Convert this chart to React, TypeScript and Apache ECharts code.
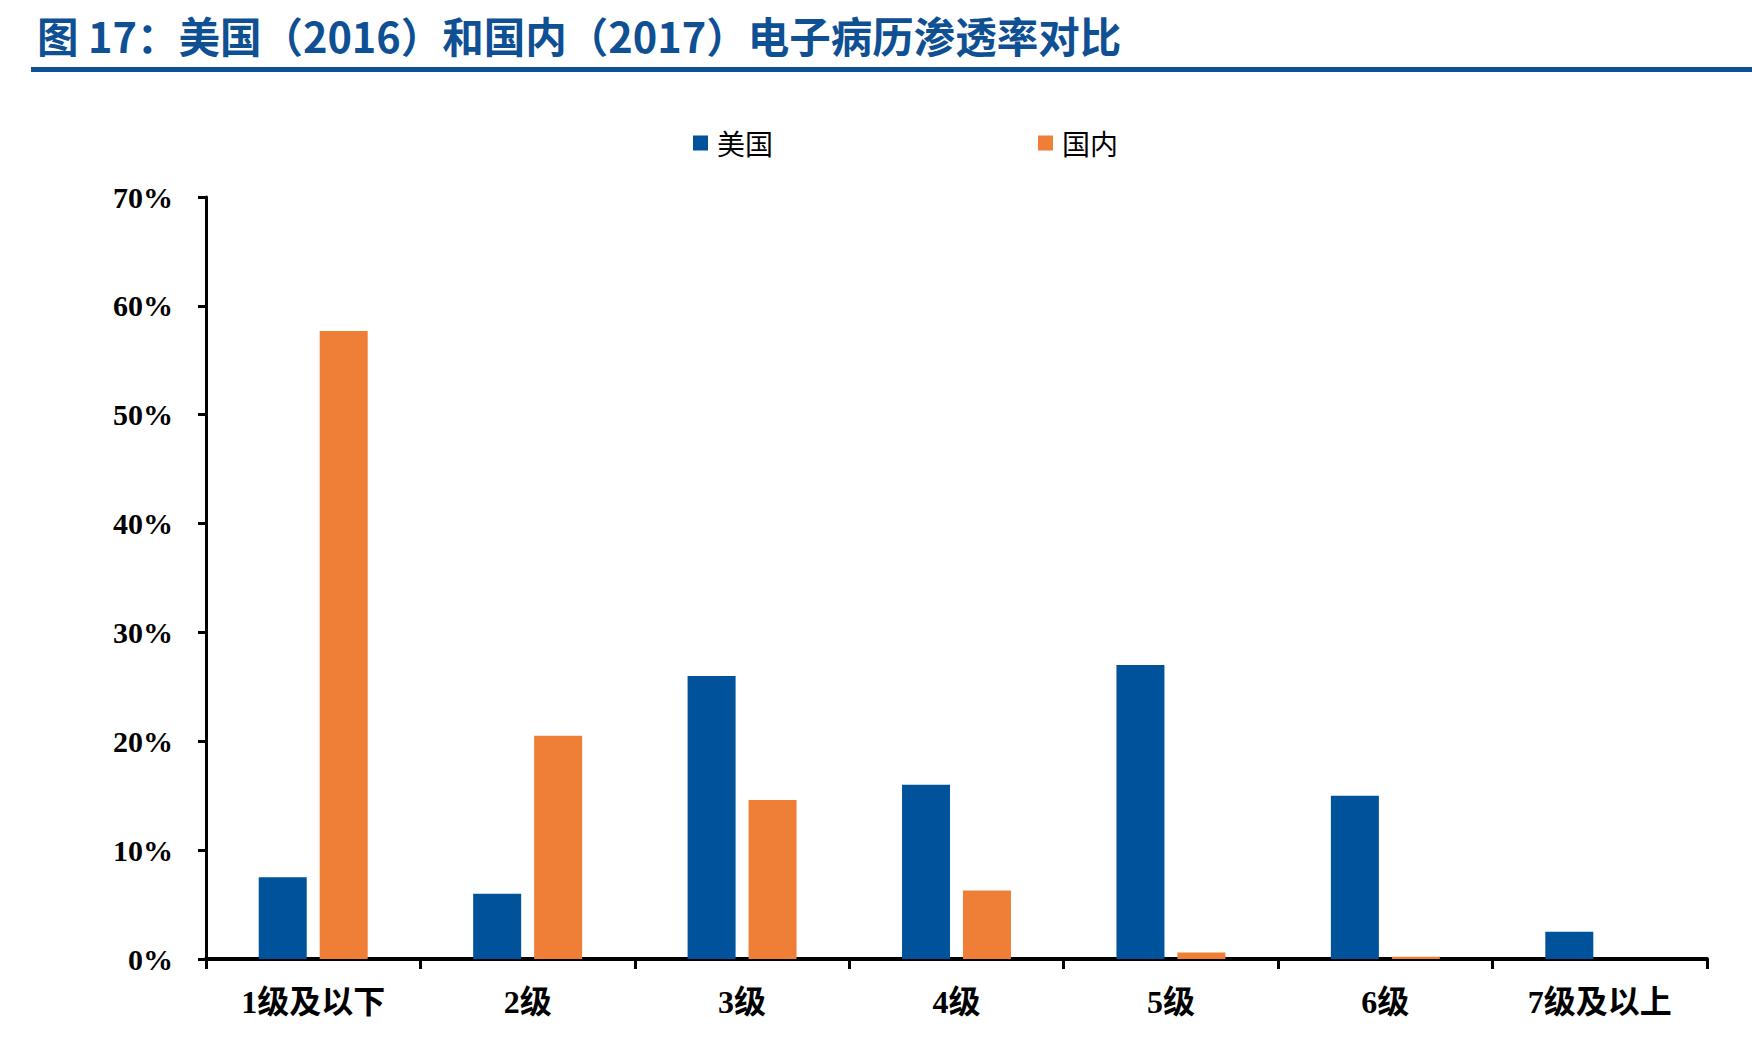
import React, { useEffect, useRef } from "react";
import * as echarts from "echarts";

const categories = ["1级及以下", "2级", "3级", "4级", "5级", "6级", "7级及以上"];
const usValues = [7.5, 6.0, 26.0, 16.0, 27.0, 15.0, 2.5];
const cnValues = [57.7, 20.5, 14.6, 6.3, 0.6, 0.2, 0];
const seriesNames = ["美国", "国内"];
const titleText = "图 17：美国（2016）和国内（2017）电子病历渗透率对比";

const BLUE = "#00529a";
const ORANGE = "#ef7f37";
const TITLE_BLUE = "#0f4f93";

export default function App() {
  const ref = useRef<HTMLDivElement>(null);
  useEffect(() => {
    document.body.style.margin = "0";
    const chart = echarts.init(ref.current!, null, { renderer: "svg" });
    const legendText = { fontSize: 28, color: "#000", fontFamily: "Noto Sans CJK SC", padding: [0, 0, 0, 4] };
    chart.setOption({
      animation: false,
      backgroundColor: "#ffffff",
      title: {
        text: titleText,
        left: 32,
        top: 9,
        textStyle: {
          fontSize: 41.5,
          fontWeight: "bold",
          color: TITLE_BLUE,
          fontFamily: "Noto Sans CJK SC",
        },
      },
      graphic: [
        {
          type: "rect",
          shape: { x: 31, y: 67, width: 1721, height: 5 },
          style: { fill: TITLE_BLUE },
        },
      ],
      legend: [
        {
          data: [seriesNames[0]],
          left: 688,
          top: 124,
          icon: "rect",
          itemWidth: 15,
          itemHeight: 15,
          textStyle: legendText,
        },
        {
          data: [seriesNames[1]],
          left: 1033,
          top: 124,
          icon: "rect",
          itemWidth: 15,
          itemHeight: 15,
          textStyle: legendText,
        },
      ],
      grid: { left: 206, right: 45, top: 197, bottom: 85, containLabel: false },
      xAxis: {
        type: "category",
        data: categories,
        axisLine: { show: true, lineStyle: { color: "#000", width: 4 } },
        axisTick: { show: true, length: 10, lineStyle: { color: "#000", width: 3 } },
        axisLabel: {
          margin: 27,
          fontSize: 32,
          fontWeight: "bold",
          color: "#000",
          fontFamily: "Liberation Serif, Noto Sans CJK SC",
        },
      },
      yAxis: {
        type: "value",
        min: 0,
        max: 70,
        interval: 10,
        axisLine: { show: true, lineStyle: { color: "#000", width: 3 } },
        axisTick: { show: true, length: 8, lineStyle: { color: "#000", width: 3 } },
        splitLine: { show: false },
        axisLabel: {
          formatter: "{value}%",
          margin: 33,
          fontSize: 30,
          fontWeight: "bold",
          color: "#000",
          fontFamily: "Liberation Serif",
        },
      },
      series: [
        {
          name: seriesNames[0],
          type: "bar",
          data: usValues,
          barWidth: 48,
          barGap: "27%",
          itemStyle: { color: BLUE },
        },
        {
          name: seriesNames[1],
          type: "bar",
          data: cnValues,
          barWidth: 48,
          barGap: "27%",
          itemStyle: { color: ORANGE },
        },
      ],
    });
    return () => chart.dispose();
  }, []);
  return <div ref={ref} style={{ width: 1752, height: 1044 }} />;
}
